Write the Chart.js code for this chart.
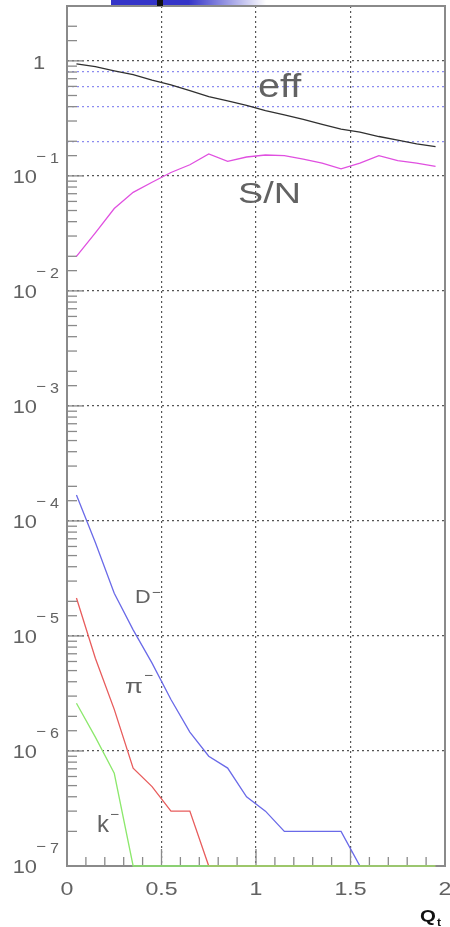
<!DOCTYPE html>
<html>
<head>
<meta charset="utf-8">
<script src="https://cdn.jsdelivr.net/npm/chart.js@4"></script>
<style>
  html, body { margin: 0; padding: 0; background: #fff; }
  #wrap { position: relative; width: 450px; height: 927px; }
  #bar { position: absolute; left: 111px; top: 0; width: 155px; height: 5px;
         background: linear-gradient(to right, #3434c8 0%, #3434c8 50%, #fff 100%); }
  #bar span { position: absolute; left: 46px; top: 0; width: 6px; height: 6px; background: #111; }
</style>
</head>
<body>
<div id="wrap">
  <canvas id="chart" width="450" height="927"></canvas>
  <div id="bar"><span></span></div>
</div>
<script>
// bin centres in Q_t
const qt = [0.05, 0.15, 0.25, 0.35, 0.45, 0.55, 0.65, 0.75, 0.85, 0.95,
            1.05, 1.15, 1.25, 1.35, 1.45, 1.55, 1.65, 1.75, 1.85, 1.95];

const effValues = [0.94, 0.89, 0.82, 0.76, 0.68, 0.62, 0.55, 0.49, 0.45, 0.41,
                   0.37, 0.34, 0.31, 0.28, 0.255, 0.24, 0.22, 0.205, 0.19, 0.18];

const snValues = [0.020, 0.032, 0.052, 0.072, 0.088, 0.107, 0.125, 0.155, 0.134, 0.146,
                  0.152, 0.150, 0.140, 0.129, 0.115, 0.129, 0.150, 0.136, 0.129, 0.121];

const dMinus = [1.68e-4, 6.5e-5, 2.35e-5, 1.13e-5, 5.8e-6, 2.8e-6, 1.46e-6, 9e-7, 7.1e-7, 4e-7,
                3e-7, 2e-7, 2e-7, 2e-7, 2e-7, 1e-7, 1e-7, 1e-7, 1e-7, 1e-7];

const piMinus = [2.14e-5, 6.4e-6, 2.3e-6, 7.1e-7, 4.9e-7, 3e-7, 3e-7, 1e-7, 1e-7, 1e-7,
                 1e-7, 1e-7, 1e-7, 1e-7, 1e-7, 1e-7, 1e-7, 1e-7, 1e-7, 1e-7];

const kMinus = [2.6e-6, 1.32e-6, 6.4e-7, 1e-7, 1e-7, 1e-7, 1e-7, 1e-7, 1e-7, 1e-7,
                1e-7, 1e-7, 1e-7, 1e-7, 1e-7, 1e-7, 1e-7, 1e-7, 1e-7, 1e-7];

const yDecades = [0, -1, -2, -3, -4, -5, -6, -7];
const xTickLabels = [0, 0.5, 1, 1.5, 2];
const effGuides = [0.2, 0.4, 0.6, 0.8];

// curve names, placed in data units
const curveLabels = [
  { text: "eff", x: 1.01, y: 0.49, size: 33, sx: 1.2 },
  { text: "S/N", x: 0.905, y: 0.0585, size: 29, sx: 1.3 },
  { text: "D", sup: "\u2212", x: 0.36, y: 1.93e-5, size: 18, sx: 1.2, supDy: -6 },
  { text: "\u03c0", sup: "\u2212", x: 0.307, y: 3.18e-6, size: 20, sx: 1.3, supDy: -13 },
  { text: "k", sup: "\u2212", x: 0.159, y: 1.96e-7, size: 24, sx: 1.0, supDy: -13 }
];

const FONT = '"Liberation Sans", Arial, sans-serif';
const TXT = "#626262";

function toPoints(vals) {
  return qt.map((q, i) => ({ x: q, y: vals[i] }));
}

function isDecade(v) {
  const l = Math.log10(v);
  return Math.abs(l - Math.round(l)) < 1e-6;
}

function drawText(ctx, str, x, y, size, sx, align, weight, color) {
  ctx.save();
  ctx.font = (weight || "normal") + " " + size + "px " + FONT;
  ctx.fillStyle = color || TXT;
  ctx.textAlign = align || "left";
  ctx.textBaseline = "alphabetic";
  ctx.translate(x, y);
  ctx.scale(sx, 1);
  ctx.fillText(str, 0, 0);
  const w = ctx.measureText(str).width * sx;
  ctx.restore();
  return w;
}

const axisDecor = {
  id: "axisDecor",
  beforeDatasetsDraw(chart) {
    const { ctx, chartArea: a, scales: { x, y } } = chart;
    ctx.save();
    ctx.strokeStyle = "#8a8a8a";
    ctx.lineWidth = 2;
    ctx.strokeRect(a.left, a.top, a.right - a.left, a.bottom - a.top);

    ctx.lineWidth = 1.3;
    y.ticks.forEach((t) => {
      const py = y.getPixelForValue(t.value);
      const len = isDecade(t.value) ? 17 : 10;
      ctx.beginPath();
      ctx.moveTo(a.left, py);
      ctx.lineTo(a.left + len, py);
      ctx.stroke();
    });
    x.ticks.forEach((t) => {
      const px = x.getPixelForValue(t.value);
      const major = Math.abs(t.value * 2 - Math.round(t.value * 2)) < 1e-6;
      const len = major ? 17 : 9;
      ctx.beginPath();
      ctx.moveTo(px, a.bottom);
      ctx.lineTo(px, a.bottom - len);
      ctx.stroke();
    });
    ctx.restore();
  },
  afterDraw(chart) {
    const { ctx, scales: { x, y } } = chart;

    yDecades.forEach((e) => {
      const py = y.getPixelForValue(Math.pow(10, e));
      if (e === 0) {
        drawText(ctx, "1", 39, py + 8, 19, 1.15, "center");
        return;
      }
      drawText(ctx, "10", 37, py + 7, 19, 1.15, "right");
      drawText(ctx, "\u2212", 36, py - 15, 14, 1.2, "left");
      drawText(ctx, String(-e), 50, py - 13, 14, 1.15, "left");
    });

    xTickLabels.forEach((v) => {
      drawText(ctx, String(v), x.getPixelForValue(v), 895, 19, 1.22, "center");
    });

    drawText(ctx, "Q", 420, 922, 17, 1.2, "left", "bold", "#111");
    drawText(ctx, "t", 437, 926, 11, 1.1, "left", "bold", "#111");

    curveLabels.forEach((l) => {
      const px = x.getPixelForValue(l.x);
      const py = y.getPixelForValue(l.y);
      const w = drawText(ctx, l.text, px, py, l.size, l.sx, "left");
      if (l.sup) {
        drawText(ctx, l.sup, px + w + 1, py + l.supDy, 14, 1.1, "left");
      }
    });
  }
};

const lineStyle = { pointRadius: 0, borderWidth: 1.3, tension: 0, fill: false, clip: false };

const config = {
  type: "line",
  data: {
    datasets: [
      { label: "k-", data: toPoints(kMinus), borderColor: "#8ce86c", ...lineStyle },
      { label: "pi-", data: toPoints(piMinus), borderColor: "#e85c5c", ...lineStyle },
      { label: "D-", data: toPoints(dMinus), borderColor: "#6a6ae8", ...lineStyle },
      { label: "S/N", data: toPoints(snValues), borderColor: "#e050e0", ...lineStyle },
      { label: "eff", data: toPoints(effValues), borderColor: "#303030", ...lineStyle }
    ]
  },
  options: {
    responsive: false,
    devicePixelRatio: 1,
    animation: false,
    layout: { padding: { left: 67, right: 5, top: 6, bottom: 61 } },
    plugins: { legend: { display: false }, tooltip: { enabled: false } },
    scales: {
      x: {
        type: "linear",
        min: 0,
        max: 2,
        ticks: { display: false, stepSize: 0.1, maxTicksLimit: 30 },
        grid: {
          drawTicks: false,
          lineWidth: 1.2,
          color: (c) => {
            const v = c.tick ? c.tick.value : 0;
            const major = Math.abs(v * 2 - Math.round(v * 2)) < 1e-6;
            return major && v > 0.01 && v < 1.99 ? "#555555" : "rgba(0,0,0,0)";
          }
        },
        border: { display: false, dash: [2, 3] }
      },
      y: {
        type: "logarithmic",
        min: 1e-7,
        max: 3,
        ticks: { display: false },
        grid: {
          drawTicks: false,
          lineWidth: 1.2,
          color: (c) => {
            const v = c.tick ? c.tick.value : 0;
            if (!v) return "rgba(0,0,0,0)";
            if (isDecade(v) && v > 1.5e-7) return "#555555";
            if (effGuides.some((g) => Math.abs(g - v) < 1e-6)) return "#8c8cf0";
            return "rgba(0,0,0,0)";
          }
        },
        border: { display: false, dash: [2, 3] }
      }
    }
  },
  plugins: [axisDecor]
};

new Chart(document.getElementById("chart"), config);
</script>
</body>
</html>
